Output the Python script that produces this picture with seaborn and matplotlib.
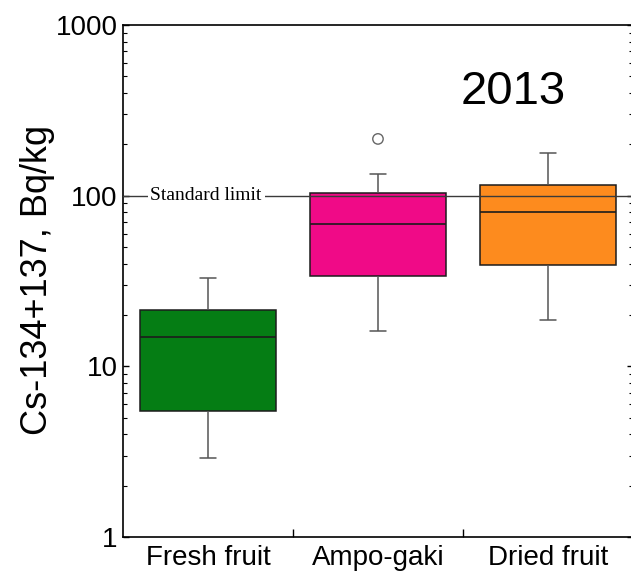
import numpy as np
import pandas as pd
import matplotlib
matplotlib.use("Agg")
import matplotlib.pyplot as plt
import matplotlib.transforms as mtransforms
from matplotlib.ticker import LogLocator, FixedLocator, NullFormatter
import seaborn as sns

# Radiocaesium in persimmon products, 2013
categories = ["Fresh fruit", "Ampo-gaki", "Dried fruit"]
# five-number summaries: lower whisker, Q1, median, Q3, upper whisker (Bq/kg)
fresh_fruit = [2.9, 5.5, 14.8, 21.3, 33.0]
ampo_gaki = [16.0, 34.0, 68.5, 104.0, 134.0]
dried_fruit = [18.6, 39.5, 80.0, 116.0, 178.0]
outlier_category = ["Ampo-gaki"]
outlier_value = [215.0]
standard_limit = 100
year_label = "2013"
box_colors = ["#057D14", "#F00A87", "#FD8B1E"]
y_ticks = [1, 10, 100, 1000]

df = pd.DataFrame({
    "product": [categories[0]] * len(fresh_fruit)
    + [categories[1]] * len(ampo_gaki)
    + [categories[2]] * len(dried_fruit),
    "cs": fresh_fruit + ampo_gaki + dried_fruit,
})
out_df = pd.DataFrame({"product": outlier_category, "cs": outlier_value})

sns.set_theme(style="white")
plt.rcParams["font.family"] = ["Liberation Sans", "DejaVu Sans"]
plt.rcParams.update({
    "text.color": "black", "axes.labelcolor": "black",
    "xtick.color": "black", "ytick.color": "black",
})

fig = plt.figure(figsize=(6.31, 5.72), dpi=100)
ax = fig.add_axes([0.1949, 0.0612, 0.8082, 0.8951])
ax.set_yscale("log")

line_dark = "#1c1c1c"
whisk = "#555555"
sns.boxplot(
    data=df, x="product", y="cs", order=categories,
    hue="product", hue_order=categories, palette=box_colors, legend=False,
    width=0.8, whis=1.5, saturation=1, ax=ax,
    boxprops=dict(edgecolor=line_dark, linewidth=1.1),
    medianprops=dict(color=line_dark, linewidth=1.2),
    whiskerprops=dict(color=whisk, linewidth=1.1),
    capprops=dict(color=whisk, linewidth=1.1),
    capwidths=0.09,
)
sns.stripplot(
    data=out_df, x="product", y="cs", order=categories, jitter=False,
    color="white", edgecolor="#666666", linewidth=1.0, size=7.5, ax=ax,
    zorder=5,
)
for coll in ax.collections:
    coll.set_facecolor("none")

# regulatory limit with inline label
ax.axhline(standard_limit, color="#3a3a3a", linewidth=1.0, zorder=3)
trans = mtransforms.blended_transform_factory(ax.transAxes, ax.transData)
ax.text(0.163, standard_limit, "Standard limit", transform=trans,
        ha="center", va="center", fontsize=14, family="Liberation Serif",
        zorder=4, bbox=dict(facecolor="white", edgecolor="none", pad=2))

ax.text(0.766, 0.846, year_label, transform=ax.transAxes, ha="center",
        va="baseline", fontsize=34)

ax.set_xlim(-0.5, len(categories) - 0.5)
ax.set_ylim(y_ticks[0], y_ticks[-1])
ax.set_yticks(y_ticks)
ax.set_yticklabels([str(t) for t in y_ticks])
ax.yaxis.set_minor_locator(LogLocator(base=10, subs=np.arange(2, 10)))
ax.yaxis.set_minor_formatter(NullFormatter())
ax.set_xticks(range(len(categories)))
ax.set_xticklabels(categories)
ax.xaxis.set_minor_locator(FixedLocator([0.5, 1.5]))

ax.tick_params(axis="y", which="both", direction="in", left=True, right=True,
               colors="black")
ax.tick_params(axis="y", which="major", length=4.5, width=1, labelsize=20, pad=4)
ax.tick_params(axis="y", which="minor", length=3.2, width=0.8)
ax.tick_params(axis="x", which="major", length=0, labelsize=20, pad=6,
               colors="black")
ax.tick_params(axis="x", which="minor", direction="in", length=6, width=1,
               bottom=True, top=False, colors="black")

for s in ax.spines.values():
    s.set_visible(True)
    s.set_color("black")
    s.set_linewidth(1.2)

ax.set_xlabel("")
ax.set_ylabel("Cs-134+137, Bq/kg", fontsize=26, color="black")
ax.yaxis.set_label_coords(-0.133, 0.502)

fig.savefig("out.png", dpi=100)
